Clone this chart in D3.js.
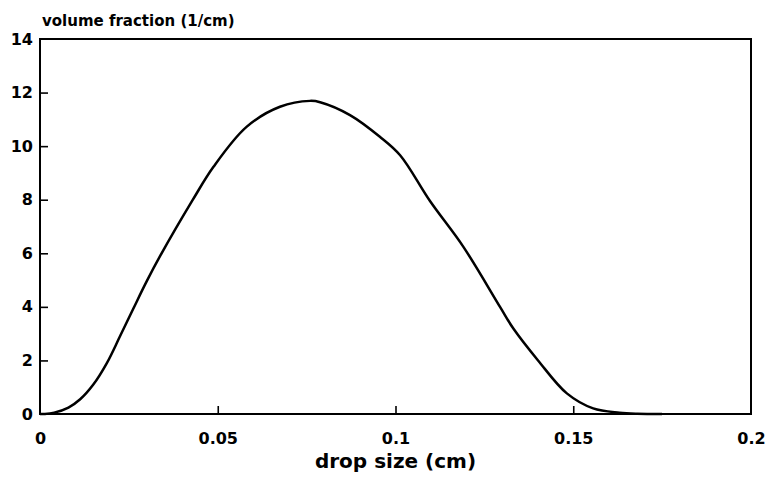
<!DOCTYPE html>
<html>
<head>
<meta charset="utf-8">
<script src="https://cdn.jsdelivr.net/npm/d3@7"></script>
<style>
	body { margin: 0; background: #fff; }
	svg { font-family: "DejaVu Sans", Arial, sans-serif; font-weight: bold; }
</style>
</head>
<body>
<svg></svg>
<script>
// drop size (cm) and volume fraction (1/cm)
let dropSize = [0, 0.0014, 0.004, 0.008, 0.0113, 0.015, 0.0188, 0.0225, 0.0262, 0.03, 0.0338, 0.043, 0.0488, 0.0581, 0.0675, 0.076, 0.0788, 0.0872, 0.0956, 0.1013, 0.1097, 0.1191, 0.1294, 0.1331, 0.1401, 0.1482, 0.1556, 0.163, 0.168, 0.175];
let volumeFraction = [0, 0, 0.05, 0.24, 0.55, 1.1, 1.9, 2.9, 3.92, 4.95, 5.9, 8.0, 9.23, 10.72, 11.47, 11.69, 11.64, 11.16, 10.35, 9.66, 7.95, 6.24, 4.0, 3.2, 2.0, 0.77, 0.21, 0.05, 0.01, 0];
let xTicks = [0, 0.05, 0.1, 0.15, 0.2];
let xTickLabels = ['0', '0.05', '0.1', '0.15', '0.2'];
let yTicks = [0, 2, 4, 6, 8, 10, 12, 14];

let width = 770;
let height = 483;
let margin = {left: 40, right: 19, top: 39, bottom: 69};

let svg = d3.select('svg')
	.attr('width', width)
	.attr('height', height);

let x = d3.scaleLinear().domain([0, 0.2]).range([margin.left, width - margin.right]);
let y = d3.scaleLinear().domain([0, 14]).range([height - margin.bottom, margin.top]);

let data = dropSize.map((d, i) => ({d: d, v: volumeFraction[i]}));

// frame
svg.append('rect')
	.attr('x', x(0)).attr('y', y(14))
	.attr('width', x(0.2) - x(0)).attr('height', y(0) - y(14))
	.attr('fill', 'none').attr('stroke', '#000').attr('stroke-width', 2);

// inward ticks
let xAxis = svg.append('g')
	.attr('transform', 'translate(0,' + y(0) + ')')
	.call(d3.axisBottom(x).tickValues(xTicks).tickSize(-8).tickPadding(19)
		.tickFormat((d, i) => xTickLabels[i]));
let yAxis = svg.append('g')
	.attr('transform', 'translate(' + x(0) + ',0)')
	.call(d3.axisLeft(y).tickValues(yTicks).tickSize(-8).tickPadding(7));

[xAxis, yAxis].forEach(g => {
	g.select('.domain').remove();
	g.selectAll('line').attr('stroke', '#000').attr('stroke-width', 1.6);
	g.selectAll('text').attr('font-size', 16).attr('font-weight', 'bold')
		.attr('font-family', '"DejaVu Sans", Arial, sans-serif').attr('fill', '#000');
});
// ticks at the frame ends are hidden by the frame anyway
xAxis.selectAll('.tick').filter(d => d === 0 || d === 0.2).select('line').remove();
yAxis.selectAll('.tick').filter(d => d === 0 || d === 14).select('line').remove();

let line = d3.line()
	.x(d => x(d.d))
	.y(d => y(d.v))
	.curve(d3.curveCatmullRom.alpha(0.5));

svg.append('path')
	.datum(data)
	.attr('d', line)
	.attr('fill', 'none')
	.attr('stroke', '#000')
	.attr('stroke-width', 2.5);

svg.append('text')
	.attr('x', 42).attr('y', 26)
	.attr('font-size', 15)
	.text('volume fraction (1/cm)');

svg.append('text')
	.attr('x', (x(0) + x(0.2)) / 2).attr('y', 468)
	.attr('text-anchor', 'middle')
	.attr('font-size', 20)
	.text('drop size (cm)');
</script>
</body>
</html>
